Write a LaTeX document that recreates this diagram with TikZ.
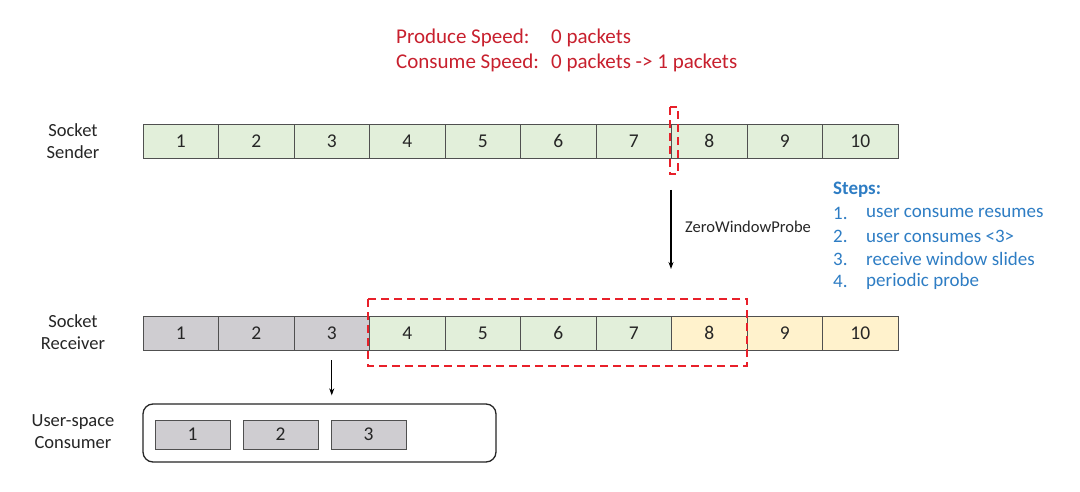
\documentclass[tikz,border=0pt]{standalone}
\usepackage{fontspec}
\setmainfont{Carlito}
\usetikzlibrary{arrows.meta}
\definecolor{cgreen}{HTML}{E2EFDA}
\definecolor{cgray}{HTML}{CFCDD1}
\definecolor{cyellow}{HTML}{FFF2CC}
\definecolor{cred}{HTML}{C8202E}
\definecolor{cblue}{HTML}{2E7DC4}
\definecolor{cborder}{HTML}{505050}
\definecolor{dred}{HTML}{E8202A}
\begin{document}
\begin{tikzpicture}[x=1pt,y=-1pt,
  cell/.style={draw=cborder, line width=0.9pt, minimum width=75.5pt, minimum height=34pt, inner sep=0pt, font=\fontsize{19.5}{19.5}\selectfont, text=black!85},
  gcell/.style={cell, fill=cgreen},
  scell/.style={cell, fill=cgray},
  ycell/.style={cell, fill=cyellow},
  ucell/.style={draw=cborder, line width=0.9pt, fill=cgray, minimum width=75pt, minimum height=29pt, inner sep=0pt, font=\fontsize{19.5}{19.5}\selectfont, text=black!85},
  lbl/.style={align=center, font=\fontsize{18.5}{22}\selectfont, text=black!85},
  win/.style={draw=dred, dash pattern=on 8pt off 5pt, line width=2pt},
  arr/.style={-{Stealth[length=7pt,width=5pt]}, line width=1.2pt, black},
  ttl/.style={anchor=west, text=cred, font=\fontsize{21}{21}\selectfont, inner sep=0},
  stp/.style={anchor=west, text=cblue, font=\fontsize{19}{19}\selectfont, inner sep=0},
]
\useasboundingbox (0,0) rectangle (1080,492);
\fill[white] (0,0) rectangle (1080,492);

% title
\node[ttl] (t1) at (396,38) {\makebox[155pt][l]{Produce Speed:}0 packets};
\node[ttl] (t2) at (396,63) {\makebox[155pt][l]{Consume Speed:}0 packets -> 1 packets};

% sender
\node[lbl] (ls) at (73,141) {Socket\\Sender};
\foreach \i in {1,...,10} {
  \node[gcell] (s\i) at ({143+75.5*(\i-0.5)},141) {\i};
}
% receiver
\node[lbl] (lr) at (73,332) {Socket\\Receiver};
\foreach \i in {1,2,3} { \node[scell] (r\i) at ({143+75.5*(\i-0.5)},333) {\i}; }
\foreach \i in {4,...,7} { \node[gcell] (r\i) at ({143+75.5*(\i-0.5)},333) {\i}; }
\foreach \i in {8,9,10} { \node[ycell] (r\i) at ({143+75.5*(\i-0.5)},333) {\i}; }

% windows
\draw[win] (670,107) rectangle (678,174);
\draw[win] (368,299) rectangle (747,366);

% probe arrow
\coordinate (pa) at (671,190);
\coordinate (pb) at (671,269);
\draw[arr] (pa) -- (pb);
\node[anchor=west, font=\fontsize{16.5}{16.5}\selectfont, text=black!85, inner sep=0] (zw) at (685,227) {ZeroWindowProbe};

% steps
\node[stp, font=\bfseries\fontsize{19}{19}\selectfont] (st) at (833,190) {Steps:};
\foreach \n/\t/\y in {1/user consume resumes/213, 2/user consumes <3>/236, 3/receive window slides/259, 4/periodic probe/281} {
  \node[stp] (sn\n) at (833,\y) {\n.};
  \node[stp] (stx\n) at (866,\y) {\t};
}

% consumer
\node[lbl] (lu) at (73,432) {User-space\\Consumer};
\node[draw=black!85, line width=1.3pt, rounded corners=10pt, minimum width=353pt, minimum height=58pt, inner sep=0] (ub) at (319.5,433) {};
\node[ucell] (u1) at (192.5,434.5) {1};
\node[ucell] (u2) at (280.5,434.5) {2};
\node[ucell] (u3) at (368.5,434.5) {3};
\draw[arr] ([yshift=-10pt]r3.south) -- ([yshift=8pt]r3.south |- ub.north);
\end{tikzpicture}
\end{document}
